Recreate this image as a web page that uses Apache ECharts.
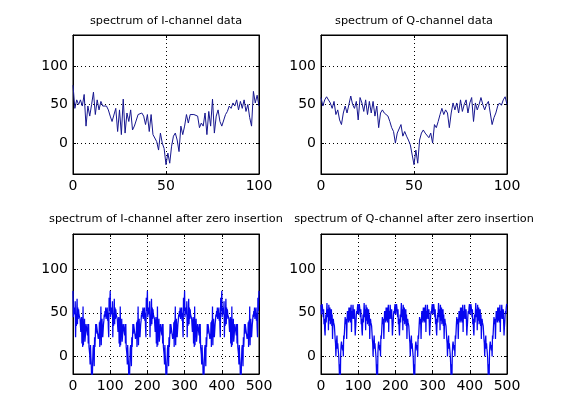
<!DOCTYPE html>
<html><head><meta charset="utf-8">
<script src="https://cdn.jsdelivr.net/npm/echarts@6/dist/echarts.min.js"></script>
<style>html,body{margin:0;padding:0;background:#fff}#c{width:561px;height:420px}</style>
</head><body><div id="c"></div>
<script>
// ---- data ----
const titles = [
  'spectrum of I-channel data',
  'spectrum of Q-channel data',
  'spectrum of I-channel after zero insertion',
  'spectrum of Q-channel after zero insertion'
];
// one value per bin, bins 0..100
const iSpectrum = [
  75,45,56,50,56,48,63,22,48,35,
  50,66,37,56,43,54,48,50,48,43,
  35,28,26,45,15,43,11,57,13,39,
  28,43,17,22,24,37,39,39,35,24,
  37,15,37,11,13,2,-9,13,0,-7,
  -28,-13,-26,-4,9,13,4,-11,22,11,
  22,37,26,37,39,37,37,35,20,26,
  22,39,11,41,22,57,13,35,43,28,
  22,24,37,41,48,45,52,48,56,43,
  54,45,56,41,50,33,22,67,52,62,
  48
];
const qSpectrum = [
  59,48,56,60,59,52,45,54,37,43,
  30,24,39,48,39,50,61,50,45,54,
  30,59,52,41,56,37,54,39,54,35,
  48,20,39,43,39,41,35,28,20,15,
  0,13,15,24,9,15,9,4,-2,-4,
  -28,-9,-26,4,13,17,13,15,7,13,
  0,24,20,28,37,45,37,43,39,20,
  39,52,43,52,39,56,41,50,56,39,
  52,59,28,52,43,50,59,50,43,50,
  54,39,24,33,39,48,52,49,56,60,
  50
];
// after inserting zeros (factor 5) the 500-bin spectrum repeats the 100-bin spectrum
const zeroInsertFactor = 5;
const period = 100;
const yTicks = [0, 50, 100];
const xTicksTop = [0, 50, 100];
const xTicksBottom = [0, 100, 200, 300, 400, 500];
const yRangeTop = [-40, 140];
const yRangeBottom = [-20, 140];
const xRangeTop = [0, 100];
const xRangeBottom = [0, 500];

function pairs(arr) { return arr.map((v, i) => [i, v]); }
function tiled(arr) {
  const out = [];
  for (let k = 0; k <= period * zeroInsertFactor; k++) out.push([k, arr[k % period]]);
  return out;
}

// ---- layout / style ----
const FONT = 'DejaVu Sans';
const grids = [
  {left: 73, top: 35, width: 186, height: 139},
  {left: 321, top: 35, width: 186, height: 139},
  {left: 73, top: 234, width: 186, height: 140},
  {left: 321, top: 234, width: 186, height: 140}
];
const titleTops = [16, 16, 214, 214];
const xRanges = [xRangeTop, xRangeTop, xRangeBottom, xRangeBottom];
const xTicks = [xTicksTop, xTicksTop, xTicksBottom, xTicksBottom];
const yRanges = [yRangeTop, yRangeTop, yRangeBottom, yRangeBottom];
const seriesData = [pairs(iSpectrum), pairs(qSpectrum), tiled(iSpectrum), tiled(qSpectrum)];
const lineColors = ['#16168f', '#16168f', '#0606f0', '#0606f0'];
const lineWidths = [1, 1, 1.25, 1.25];

const gridLine = {show: true, lineStyle: {color: '#000', width: 1, type: [1, 3]}};
const tick = (vals) => ({show: true, inside: true, length: 3, lineStyle: {color: '#000'}, customValues: vals});
const lbl = (vals, show) => ({show: show, customValues: vals, color: '#000', fontFamily: FONT, fontSize: 14, margin: 5});
const axLine = {show: true, onZero: false, lineStyle: {color: '#000'}};

const option = {
  backgroundColor: '#fff',
  animation: false,
  title: titles.map((t, i) => ({
    text: t,
    left: grids[i].left + grids[i].width / 2,
    top: titleTops[i],
    textAlign: 'center',
    padding: 0,
    textStyle: {fontFamily: FONT, fontSize: 11.25, fontWeight: 'normal', color: '#000'}
  })),
  grid: grids.map(g => Object.assign({show: true, borderColor: '#000', borderWidth: 1, backgroundColor: '#fff'}, g)),
  xAxis: [],
  yAxis: [],
  series: []
};

grids.forEach((g, i) => {
  option.xAxis.push({
    type: 'value', gridIndex: i, position: 'bottom', min: xRanges[i][0], max: xRanges[i][1],
    axisLine: axLine, axisTick: tick(xTicks[i]), axisLabel: lbl(xTicks[i], true), splitLine: gridLine
  });
  option.xAxis.push({
    type: 'value', gridIndex: i, position: 'top', min: xRanges[i][0], max: xRanges[i][1],
    axisLine: axLine, axisTick: tick(xTicks[i]), axisLabel: lbl(xTicks[i], false), splitLine: {show: false}
  });
  option.yAxis.push({
    type: 'value', gridIndex: i, position: 'left', min: yRanges[i][0], max: yRanges[i][1],
    axisLine: axLine, axisTick: tick(yTicks), axisLabel: lbl(yTicks, true), splitLine: gridLine
  });
  option.yAxis.push({
    type: 'value', gridIndex: i, position: 'right', min: yRanges[i][0], max: yRanges[i][1],
    axisLine: axLine, axisTick: tick(yTicks), axisLabel: lbl(yTicks, false), splitLine: {show: false}
  });
  option.series.push({
    type: 'line', xAxisIndex: 2 * i, yAxisIndex: 2 * i, data: seriesData[i],
    showSymbol: false, symbol: 'none', clip: true,
    lineStyle: {color: lineColors[i], width: lineWidths[i]}, emphasis: {disabled: true}
  });
});

const chart = echarts.init(document.getElementById('c'), null, {renderer: 'canvas'});
chart.setOption(option);
</script>
</body></html>
